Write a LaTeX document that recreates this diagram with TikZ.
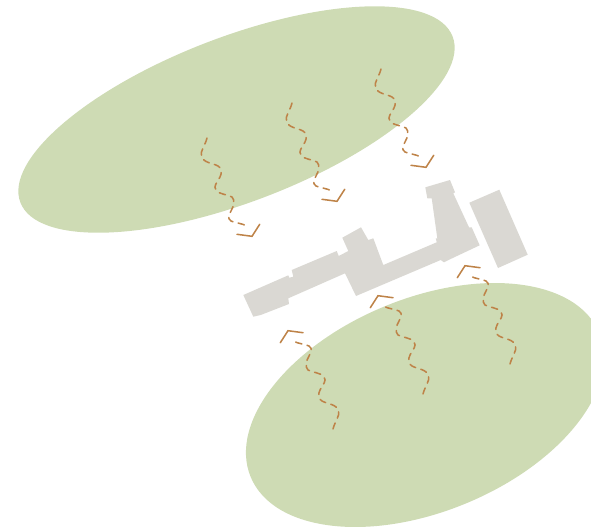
\documentclass[tikz,border=0pt]{standalone}
\usepackage{xcolor}
\usetikzlibrary{calc}
\definecolor{pgreen}{HTML}{CEDBB4}
\definecolor{pstone}{HTML}{DAD8D3}
\definecolor{pwave}{HTML}{BE8348}

\begin{document}
\begin{tikzpicture}[x=0.75pt, y=-0.75pt,
  garden/.style={fill=pgreen, draw=none},
  block/.style={fill=pstone, draw=none},
  flow/.style={draw=pwave, line width=1.15pt, line cap=round},
  wave/.pic={
    \draw[flow, dash pattern=on 4.8pt off 4pt] (0,0)
      .. controls (-2,8) and (-7,13) .. (-5.5,18)
      .. controls (-4,25) and (6,25) .. (11,28)
      .. controls (15,30) and (15,35) .. (13,39)
      .. controls (10,45) and (6,48) .. (9,52)
      .. controls (13,57) and (20,56) .. (25,59)
      .. controls (28,62) and (27,68) .. (24,73)
      .. controls (22,77) and (20,80) .. (24,83)
      .. controls (28,85) and (34,85) .. (40,88);
    \draw[flow] (30,96.3) -- (45,98.3) -- (52.7,86.3);
  }]
  \useasboundingbox (0,0) rectangle (591,529);
  \clip (0,0) rectangle (591,529);

  % gardens
  \fill[garden] (236.5,119.5) ellipse [x radius=231.5, y radius=82.5, rotate=21];
  \fill[garden] (425,405) ellipse [x radius=188.6, y radius=106.6, rotate=22.4];

  % building
  \fill[block] (243.3,295) -- (288.3,275.3) -- (289.3,277.7) -- (293.3,276.7)
    -- (291.7,270) -- (336.7,251) -- (338.7,256) -- (348.3,251) -- (342.3,237.7)
    -- (361,227.3) -- (368.3,240) -- (373.3,238.3) -- (383.3,265) -- (436.7,242.3)
    -- (435.7,238.3) -- (437.3,238.3) -- (431.7,198.3) -- (427.3,198.3)
    -- (425.3,187.3) -- (450,180) -- (455,192.3) -- (453.3,193.3) -- (469,227.3)
    -- (471.7,227.3) -- (479.7,245.3) -- (450,259.3) -- (444,262.3) -- (440.7,260)
    -- (356,296) -- (345,273.3) -- (288.3,298.3) -- (289,304) -- (260.7,315)
    -- (253.3,316.7) -- cycle;
  \fill[block] (469.3,202.7) -- (499.3,189.7) -- (527.7,254.7) -- (498,268) -- cycle;

  % flows
  \foreach \px/\py in {207/138, 292/103, 381/69}
    \pic at (\px,\py) {wave};
  \foreach \px/\py in {333/429, 423/394, 510/364}
    \pic[rotate=180] at (\px,\py) {wave};
\end{tikzpicture}
\end{document}
